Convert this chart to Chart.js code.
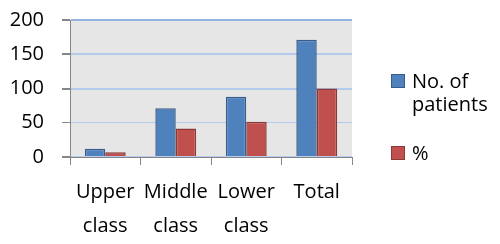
<!DOCTYPE html>
<html>
<head>
<meta charset="utf-8">
<script src="https://cdn.jsdelivr.net/npm/chart.js@4/dist/chart.umd.min.js"></script>
<style>
  html, body { margin: 0; padding: 0; background: #fff; }
  #wrap { position: relative; width: 500px; height: 244px; }
  #legend { position: absolute; left: 391px; top: 69px; font: 20px "Open Sans", sans-serif; color: #000; }
  .item { display: flex; align-items: flex-start; line-height: 23px; }
  .item + .item { margin-top: 26px; }
  .box { width: 12px; height: 12px; border: 1px solid; margin-top: 5px; margin-right: 7px; flex: none; }
</style>
</head>
<body>
<div id="wrap">
  <canvas id="chart" width="500" height="244"></canvas>
  <div id="legend"></div>
</div>
<script>
const categories = [["Upper", "class"], ["Middle", "class"], ["Lower", "class"], ["Total"]];
const patients = [12, 71, 88, 171];
const percent = [7, 41.5, 51.5, 100];
const seriesNames = [["No. of", "patients"], ["%"]];
const yTicks = [0, 50, 100, 150, 200];

const FONT = "'Open Sans', sans-serif";

// grey plot background like the original spreadsheet chart
const plotBg = {
  id: "plotBg",
  beforeDraw(chart) {
    const { ctx, chartArea: a } = chart;
    ctx.save();
    ctx.fillStyle = "#e6e6e6";
    ctx.fillRect(a.left, a.top, a.right - a.left, a.bottom - a.top);
    ctx.restore();
  },
};

const chart = new Chart(document.querySelector("#chart"), {
  type: "bar",
  data: {
    labels: categories,
    datasets: [
      { label: seriesNames[0].join(" "), data: patients, backgroundColor: "#4f81bd", borderColor: "#385d8a", borderWidth: 1.5 },
      { label: seriesNames[1].join(" "), data: percent, backgroundColor: "#c0504d", borderColor: "#8c3836", borderWidth: 1.5 },
    ],
  },
  options: {
    responsive: false,
    animation: false,
    layout: { padding: { top: 20, right: 148, left: 0, bottom: 0 } },
    plugins: { legend: { display: false }, tooltip: { enabled: false } },
    datasets: { bar: { categoryPercentage: 0.58, barPercentage: 1 } },
    scales: {
      x: {
        grid: { offset: true, drawOnChartArea: false, color: "#868686", tickLength: 8, lineWidth: 1 },
        border: { color: "#868686", width: 1 },
        ticks: { color: "#000", padding: 10, maxRotation: 0, autoSkip: false, font: { family: FONT, size: 20, lineHeight: 1.7 } },
        afterFit(scale) {
          scale.height = 87;
          scale.paddingTop = 0;
        },
      },
      y: {
        min: 0,
        max: 200,
        afterBuildTicks(scale) { scale.ticks = yTicks.map((v) => ({ value: v })); },
        grid: {
          color: (c) => (c.tick && c.tick.value === 200 ? "#95b3e0" : "#b4caec"),
          lineWidth: (c) => (c.tick && c.tick.value === 50 ? 1 : 2),
          tickColor: "#868686",
          tickLength: 8,
        },
        border: { color: "#868686", width: 1 },
        ticks: { color: "#000", padding: 18, font: { family: FONT, size: 20 } },
        afterFit(scale) {
          scale.width = 70;
          scale.paddingTop = 0;
          scale.paddingBottom = 0;
        },
      },
    },
  },
  plugins: [plotBg],
});

// legend as html so the two-line series name wraps like the original
document.querySelector("#legend").innerHTML = chart.data.datasets
  .map(
    (ds, i) => `<div class="item"><span class="box" style="background:${ds.backgroundColor};border-color:${ds.borderColor}"></span><span>${seriesNames[i].join("<br>")}</span></div>`,
  )
  .join("");
</script>
</body>
</html>
